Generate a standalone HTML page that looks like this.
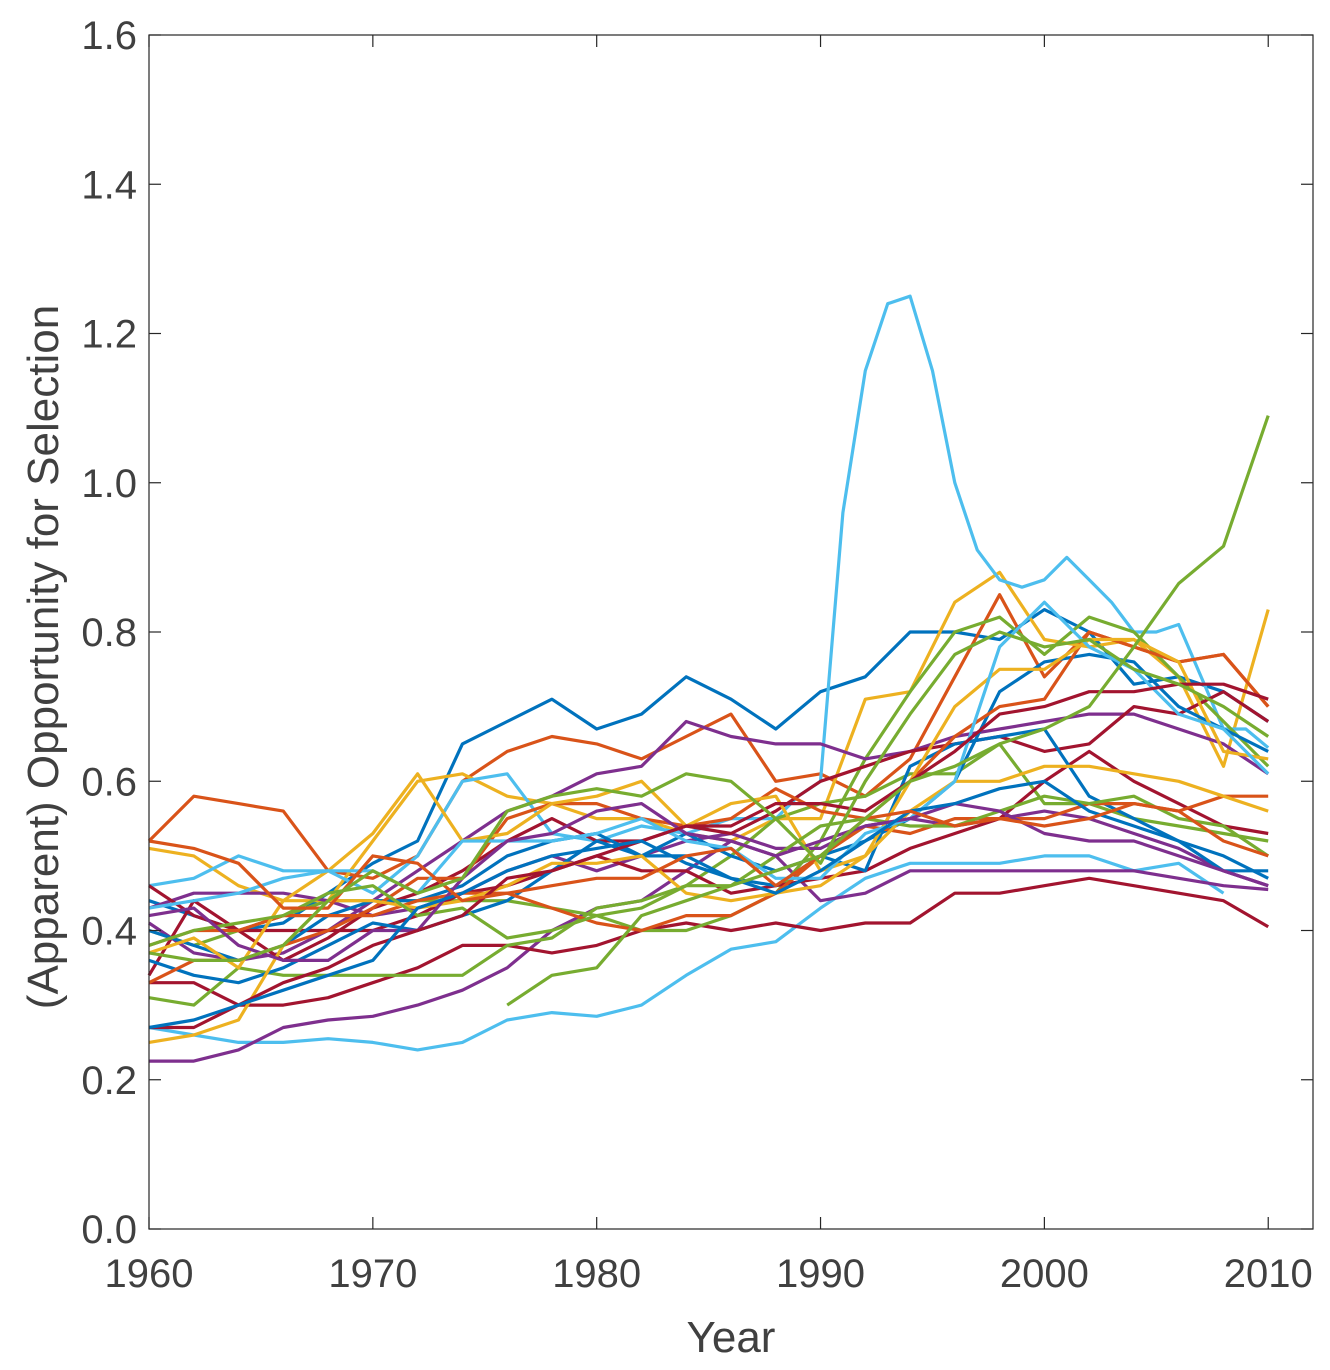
<!DOCTYPE html>
<html><head><meta charset="utf-8"><style>
html,body{margin:0;padding:0;background:#fff;}
svg{display:block;font-family:"Liberation Sans",Arial,sans-serif;}
</style></head><body>
<svg id="chart" width="1330" height="1370" viewBox="0 0 1330 1370" xmlns="http://www.w3.org/2000/svg">
<rect x="0" y="0" width="1330" height="1370" fill="#fff"/>
<g id="lines"></g>
<g id="axes"></g>
</svg>
<script>
const xTicks = [1960,1970,1980,1990,2000,2010];
const yTicks = [0.0,0.2,0.4,0.6,0.8,1.0,1.2,1.4,1.6];
const C = {b:"#0072BD",o:"#D95319",y:"#EDB120",p:"#7E2F8E",g:"#77AC30",c:"#4DBEEE",r:"#A2142F"};
const seriesColors = ["b","o","y","c","c","c","p","r","g","g","p","p","r","r","b","b","o","o","y","y","g","c","p","r","b","o","g","g"];
const seriesStarts = [1960,1960,1960,1960,1988,1960,1960,1960,1960,1960,1960,1960,1960,1960,1960,1960,1960,1960,1960,1960,1960,1960,1960,1960,1960,1960,1960,1976];
const seriesSteps  = [2,2,2,2,1,2,2,2,2,2,2,2,2,2,2,2,2,2,2,2,2,2,2,2,2,2,2,2];
const seriesValues = [
[.44,.42,.40,.41,.45,.49,.52,.65,.68,.71,.67,.69,.74,.71,.67,.72,.74,.80,.80,.79,.83,.80,.73,.74,.72,.68],
[.52,.58,.57,.56,.48,.47,.50,.60,.64,.66,.65,.63,.66,.69,.60,.61,.58,.63,.74,.85,.74,.80,.78,.76,.77,.70],
[.51,.50,.46,.44,.44,.52,.60,.61,.58,.57,.55,.55,.53,.52,.55,.55,.71,.72,.84,.88,.79,.78,.79,.74,.62,.83],
[.46,.47,.50,.48,.48,.45,.50,.60,.61,.53,.52,.54,.53,.55,.55],
[.55,.58,.60,.96,1.15,1.24,1.25,1.15,1.0,.91,.87,.86,.87,.90,.87,.84,.80,.80,.81,.74,.67,.67,.645],
[.27,.26,.25,.25,.255,.25,.24,.25,.28,.29,.285,.30,.34,.375,.385,.43,.47,.49,.49,.49,.50,.50,.48,.49,.45],
[.225,.225,.24,.27,.28,.285,.30,.32,.35,.40,.43,.44,.48,.52,.50,.44,.45,.48,.48,.48,.48,.48,.48,.47,.46,.455],
[.33,.33,.30,.30,.31,.33,.35,.38,.38,.37,.38,.40,.41,.40,.41,.40,.41,.41,.45,.45,.46,.47,.46,.45,.44,.405],
[.31,.30,.35,.34,.34,.34,.34,.34,.38,.39,.43,.44,.46,.50,.55,.57,.58,.61,.61,.65,.57,.57,.55,.54,.53,.52],
[.40,.38,.40,.42,.44,.44,.44,.44,.44,.43,.42,.40,.40,.42,.45,.52,.63,.72,.80,.82,.77,.82,.80,.74,.68,.62],
[.41,.37,.36,.37,.40,.44,.48,.52,.56,.58,.61,.62,.68,.66,.65,.65,.63,.64,.66,.67,.68,.69,.69,.67,.65,.61],
[.43,.45,.45,.45,.44,.42,.43,.45,.48,.50,.48,.50,.52,.53,.51,.51,.54,.55,.54,.55,.56,.55,.53,.51,.48,.46],
[.34,.44,.40,.36,.39,.43,.45,.48,.52,.55,.52,.52,.54,.53,.56,.60,.62,.64,.65,.66,.64,.65,.70,.69,.72,.68],
[.46,.42,.40,.40,.40,.40,.42,.45,.46,.48,.50,.48,.48,.45,.46,.47,.48,.51,.53,.55,.60,.64,.60,.57,.54,.53],
[.36,.34,.33,.35,.38,.41,.40,.42,.44,.48,.52,.50,.53,.50,.48,.50,.52,.55,.60,.72,.76,.77,.76,.70,.67,.64],
[.40,.38,.36,.38,.42,.44,.44,.46,.50,.52,.53,.50,.50,.47,.46,.50,.48,.62,.65,.66,.67,.58,.55,.52,.48,.48],
[.33,.36,.36,.38,.40,.43,.47,.47,.55,.57,.57,.55,.54,.55,.59,.56,.55,.60,.66,.70,.71,.80,.78,.76,.77,.70],
[.38,.40,.40,.42,.42,.42,.44,.45,.45,.43,.41,.40,.42,.42,.45,.50,.54,.53,.55,.55,.55,.57,.57,.56,.58,.58],
[.37,.39,.35,.44,.48,.53,.61,.52,.53,.57,.58,.60,.54,.57,.58,.48,.50,.60,.70,.75,.75,.79,.79,.76,.64,.63],
[.25,.26,.28,.38,.44,.44,.43,.44,.46,.49,.49,.50,.45,.44,.45,.46,.50,.56,.60,.60,.62,.62,.61,.60,.58,.56],
[.38,.40,.41,.42,.45,.46,.42,.43,.39,.40,.42,.43,.46,.46,.50,.54,.55,.54,.54,.56,.58,.57,.58,.55,.54,.50],
[.43,.44,.45,.47,.48,.48,.45,.52,.52,.52,.53,.55,.52,.51,.47,.47,.53,.55,.60,.78,.84,.78,.75,.69,.67,.61],
[.42,.43,.38,.36,.36,.40,.40,.47,.52,.53,.56,.57,.53,.52,.50,.52,.54,.55,.57,.56,.53,.52,.52,.50,.48,.46],
[.27,.27,.30,.33,.35,.38,.40,.42,.47,.48,.50,.52,.54,.54,.57,.57,.56,.60,.64,.69,.70,.72,.72,.73,.73,.71],
[.27,.28,.30,.32,.34,.36,.43,.45,.48,.50,.51,.52,.49,.47,.45,.48,.52,.56,.57,.59,.60,.56,.54,.52,.50,.47],
[.52,.51,.49,.43,.43,.50,.49,.44,.45,.46,.47,.47,.50,.51,.46,.50,.55,.56,.54,.55,.54,.55,.57,.56,.52,.50],
[.37,.36,.36,.38,.44,.48,.45,.47,.56,.58,.59,.58,.61,.60,.55,.49,.60,.69,.77,.80,.78,.79,.75,.73,.70,.66],
[.30,.34,.35,.42,.44,.46,.48,.50,.55,.60,.62,.65,.67,.70,.78,.865,.915,1.09]
];
const NS="http://www.w3.org/2000/svg";
const L=149,R=1313,T=35,B=1229;
const x0=1960,x1=2012,y0=0,y1=1.6;
function sx(v){return L+(v-x0)/(x1-x0)*(R-L);}
function sy(v){return B-(v-y0)/(y1-y0)*(B-T);}
const lines=document.getElementById('lines');
seriesValues.forEach((vals,i)=>{
  const pts=vals.map((v,j)=>sx(seriesStarts[i]+j*seriesSteps[i]).toFixed(1)+","+sy(v).toFixed(1)).join(" ");
  const pl=document.createElementNS(NS,'polyline');
  pl.setAttribute('points',pts);
  pl.setAttribute('fill','none');
  pl.setAttribute('stroke',C[seriesColors[i]]);
  pl.setAttribute('stroke-width','3.2');
  pl.setAttribute('stroke-linejoin','round');
  
  
  lines.appendChild(pl);
});
const axes=document.getElementById('axes');
function add(tag,attrs,text){const e=document.createElementNS(NS,tag);for(const k in attrs)e.setAttribute(k,attrs[k]);if(text!==undefined)e.textContent=text;axes.appendChild(e);return e;}
const box=add('rect',{x:L,y:T,width:R-L,height:B-T,fill:'none',stroke:'#262626','stroke-width':1.2});


xTicks.forEach(t=>{
  const x=sx(t);
  add('line',{x1:x,y1:B,x2:x,y2:B-12,stroke:'#262626','stroke-width':1.2});
  add('line',{x1:x,y1:T,x2:x,y2:T+12,stroke:'#262626','stroke-width':1.2});
  const tx=add('text',{x:x,y:B+58,'text-anchor':'middle','font-size':40,fill:'#404040'},String(t));
  
  
});
yTicks.forEach(t=>{
  const y=sy(t);
  add('line',{x1:L,y1:y,x2:L+12,y2:y,stroke:'#262626','stroke-width':1.2});
  add('line',{x1:R,y1:y,x2:R-12,y2:y,stroke:'#262626','stroke-width':1.2});
  const ty=add('text',{x:L-12,y:y+14,'text-anchor':'end','font-size':40,fill:'#404040'},t.toFixed(1));
  
  
});
const xt=add('text',{x:(L+R)/2,y:1352,'text-anchor':'middle','font-size':44,fill:'#404040'},'Year');


const yt=add('text',{x:0,y:0,transform:'translate(58,'+((T+B)/2+25)+') rotate(-90)','text-anchor':'middle','font-size':44,fill:'#404040'},'(Apparent) Opportunity for Selection');


</script>
</body></html>
